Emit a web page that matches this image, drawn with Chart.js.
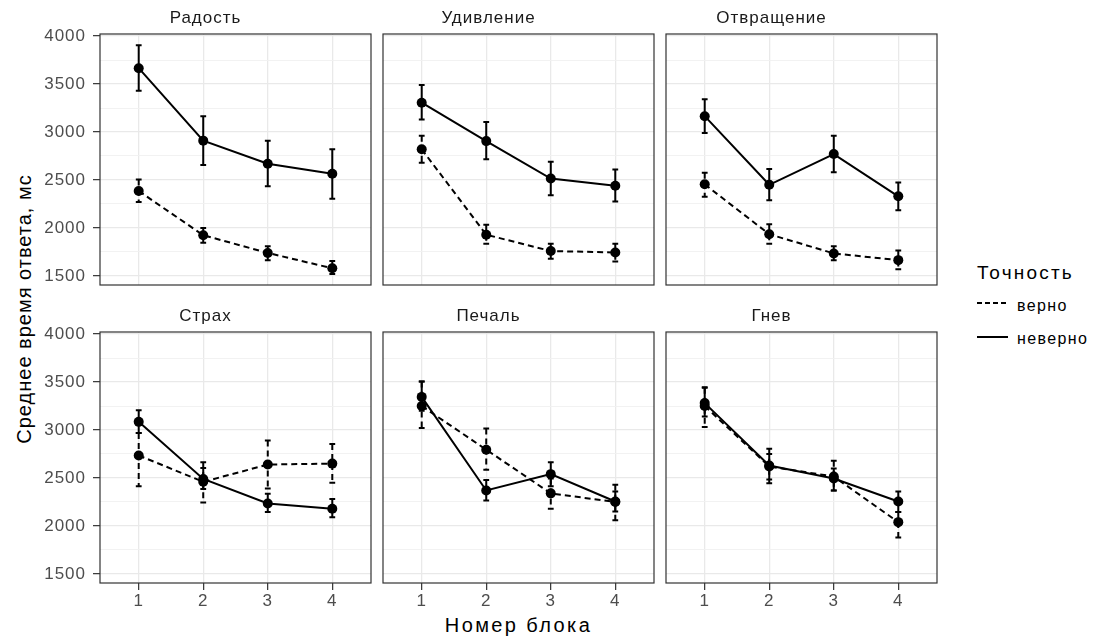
<!DOCTYPE html>
<html><head><meta charset="utf-8">
<script src="https://cdn.jsdelivr.net/npm/chart.js@4.4.0/dist/chart.umd.min.js"></script>
<style>
body{margin:0;background:#fff;width:1102px;height:638px;overflow:hidden;position:relative;font-family:'Liberation Sans',Arial,sans-serif;}
canvas{position:absolute;}
.t{position:absolute;color:#000;white-space:nowrap;line-height:1;}
</style></head><body>
<div class="t" id="ytitle" style="left:24px;top:308.5px;font-size:20px;letter-spacing:1px;transform:translate(-50%,-50%) rotate(-90deg);">Среднее время ответа, мс</div>
<div class="t" id="xtitle" style="left:518.5px;top:615px;font-size:20px;letter-spacing:2.4px;transform:translateX(-50%);">Номер блока</div>
<div class="t" style="left:977px;top:263px;font-size:19px;letter-spacing:2.2px;">Точность</div>
<svg style="position:absolute;left:975px;top:295px" width="36" height="50">
  <line x1="2" y1="8" x2="33" y2="8" stroke="#000" stroke-width="2" stroke-dasharray="5,3"/>
  <line x1="2" y1="42" x2="33" y2="42" stroke="#000" stroke-width="2"/>
</svg>
<div class="t" style="left:1017px;top:298px;font-size:16px;letter-spacing:1.4px;">верно</div>
<div class="t" style="left:1017px;top:330.5px;font-size:16px;letter-spacing:1.4px;">неверно</div>
<script>
const emotions = ['Радость','Удивление','Отвращение','Страх','Печаль','Гнев'];
const blocks = [1, 2, 3, 4];
const blockLabels = ['1', '2', '3', '4'];
const yMajorTicks = [1500, 2000, 2500, 3000, 3500, 4000];
const yMinorTicks = [1750, 2250, 2750, 3250, 3750];
const seriesNames = ['верно', 'неверно'];

// "верно" (correct) — mean, lower and upper error-bar ends per emotion
const correctMean = [
  [2385, 1925, 1740, 1580],
  [2820, 1930, 1760, 1745],
  [2455, 1935, 1735, 1665],
  [2735, 2460, 2640, 2650],
  [3250, 2795, 2340, 2250],
  [3250, 2620, 2515, 2040]
];
const correctLow = [
  [2270, 1845, 1665, 1520],
  [2680, 1835, 1680, 1650],
  [2325, 1835, 1665, 1570],
  [2415, 2245, 2390, 2450],
  [3020, 2585, 2180, 2060],
  [3030, 2445, 2370, 1880]
];
const correctHigh = [
  [2505, 2000, 1810, 1655],
  [2960, 2035, 1835, 1835],
  [2575, 2040, 1810, 1765],
  [2970, 2665, 2890, 2855],
  [3505, 3015, 2495, 2430],
  [3440, 2805, 2680, 2145]
];
// "неверно" (incorrect)
const wrongMean = [
  [3665, 2910, 2670, 2565],
  [3305, 2905, 2515, 2440],
  [3165, 2450, 2770, 2330],
  [3085, 2490, 2235, 2180],
  [3345, 2370, 2540, 2255],
  [3280, 2630, 2495, 2255]
];
const wrongLow = [
  [3430, 2655, 2435, 2305],
  [3130, 2715, 2340, 2275],
  [2990, 2290, 2580, 2185],
  [2970, 2385, 2145, 2090],
  [3200, 2265, 2415, 2150],
  [3140, 2485, 2370, 2145]
];
const wrongHigh = [
  [3905, 3165, 2910, 2820],
  [3490, 3105, 2690, 2610],
  [3340, 2615, 2960, 2475],
  [3205, 2605, 2335, 2280],
  [3505, 2480, 2665, 2360],
  [3445, 2750, 2600, 2360]
];

const FONT = "'Liberation Sans', Arial, sans-serif";
const colLefts = [100, 383, 666];
const rowTops = [34, 332];
const PW = 271, PH = 251;
const AXL = 60, TITLEH = 30, AXB = 35;

const letterSpacing = {
  id: 'letterSpacing',
  beforeDraw(chart) { chart.ctx.letterSpacing = '1px'; }
};
const errorBars = {
  id: 'errorBars',
  beforeDatasetsDraw(chart) {
    const ctx = chart.ctx, xs = chart.scales.x, ys = chart.scales.y;
    chart.data.datasets.forEach(ds => {
      ctx.save();
      ctx.strokeStyle = '#000';
      ctx.lineWidth = ds.errWidth;
      ctx.setLineDash(ds.borderDash || []);
      ds.data.forEach((p, j) => {
        const x = xs.getPixelForValue(p.x);
        const x0 = xs.getPixelForValue(p.x - 0.045), x1 = xs.getPixelForValue(p.x + 0.045);
        const yl = ys.getPixelForValue(ds.errLow[j]), yh = ys.getPixelForValue(ds.errHigh[j]);
        ctx.beginPath();
        ctx.moveTo(x0, yh); ctx.lineTo(x1, yh);
        ctx.moveTo(x, yh); ctx.lineTo(x, yl);
        ctx.moveTo(x0, yl); ctx.lineTo(x1, yl);
        ctx.stroke();
      });
      ctx.restore();
    });
  }
};
const panelBorder = {
  id: 'panelBorder',
  afterDraw(chart) {
    const {left, top, width, height} = chart.chartArea;
    const ctx = chart.ctx;
    ctx.save();
    ctx.strokeStyle = '#333333';
    ctx.lineWidth = 1.2;
    ctx.setLineDash([]);
    ctx.strokeRect(left, top, width, height);
    ctx.restore();
  }
};

emotions.forEach((name, p) => {
  const col = p % 3, row = Math.floor(p / 3);
  const cv = document.createElement('canvas');
  const W = AXL + PW + AXL, H = TITLEH + PH + AXB;
  cv.width = W; cv.height = H;
  cv.style.width = W + 'px'; cv.style.height = H + 'px';
  cv.style.left = (colLefts[col] - AXL) + 'px';
  cv.style.top = (rowTops[row] - TITLEH) + 'px';
  document.body.appendChild(cv);
  const isMajor = c => c.tick && yMajorTicks.includes(c.tick.value);
  new Chart(cv.getContext('2d'), {
    type: 'line',
    data: {
      datasets: [
        {
          label: seriesNames[0],
          data: blocks.map((b, j) => ({x: b, y: correctMean[p][j]})),
          errLow: correctLow[p], errHigh: correctHigh[p], errWidth: 2,
          borderColor: '#000', backgroundColor: '#000', borderWidth: 2,
          borderDash: [6, 4], pointRadius: 5, pointBorderWidth: 0,
          pointBackgroundColor: '#000', tension: 0
        },
        {
          label: seriesNames[1],
          data: blocks.map((b, j) => ({x: b, y: wrongMean[p][j]})),
          errLow: wrongLow[p], errHigh: wrongHigh[p], errWidth: 2,
          borderColor: '#000', backgroundColor: '#000', borderWidth: 2,
          borderDash: [], pointRadius: 5, pointBorderWidth: 0,
          pointBackgroundColor: '#000', tension: 0
        }
      ]
    },
    options: {
      responsive: false, animation: false, devicePixelRatio: 1,
      layout: {padding: {left: 0, right: AXL, top: 0, bottom: 0}},
      plugins: {
        legend: {display: false}, tooltip: {enabled: false},
        title: {
          display: true, text: name, color: '#1a1a1a',
          font: {family: FONT, size: 17, weight: 'normal', lineHeight: 1.2},
          padding: {top: 4.3, bottom: 5.3}
        }
      },
      scales: {
        x: {
          type: 'linear', min: 0.4, max: 4.6,
          afterBuildTicks: s => { s.ticks = blocks.map(v => ({value: v})); },
          afterFit: s => { s.height = AXB; },
          ticks: {
            display: row === 1, autoSkip: false, maxRotation: 0,
            color: '#4d4d4d', font: {family: FONT, size: 17}, padding: 1,
            callback: v => blockLabels[blocks.indexOf(v)]
          },
          grid: {
            color: '#e9e9e9', lineWidth: 1.3, tickLength: 7, drawTicks: true,
            tickColor: row === 1 ? '#333333' : 'rgba(0,0,0,0)', tickWidth: 1.2
          },
          border: {display: false}
        },
        y: {
          type: 'linear', min: 1406, max: 4021,
          afterBuildTicks: s => {
            s.ticks = yMinorTicks.concat(yMajorTicks).sort((a, b) => a - b).map(v => ({value: v}));
          },
          afterFit: s => { s.width = AXL; },
          ticks: {
            display: col === 0, color: '#4d4d4d', font: {family: FONT, size: 17}, padding: 7,
            callback: v => yMajorTicks.includes(v) ? String(v) : ''
          },
          grid: {
            color: c => isMajor(c) ? '#e9e9e9' : '#f1f1f1',
            lineWidth: c => isMajor(c) ? 1.3 : 0.9,
            tickLength: 7, drawTicks: true, tickWidth: 1.2,
            tickColor: c => (col === 0 && isMajor(c)) ? '#333333' : 'rgba(0,0,0,0)'
          },
          border: {display: false}
        }
      }
    },
    plugins: [letterSpacing, errorBars, panelBorder]
  });
});
</script>
</body></html>
